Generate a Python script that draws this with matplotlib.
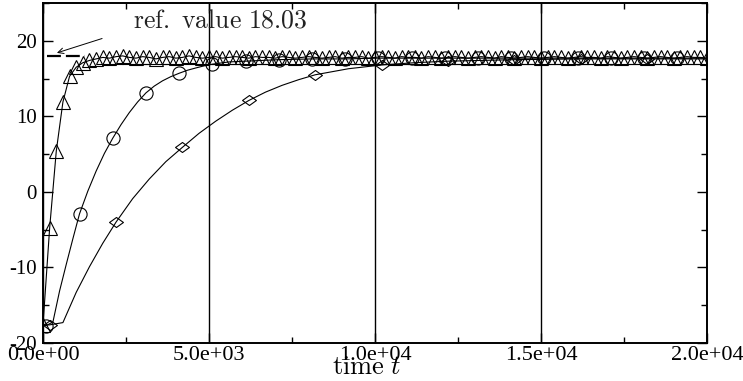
import numpy as np
import matplotlib
matplotlib.use("Agg")
import matplotlib.pyplot as plt
from matplotlib.path import Path
from matplotlib.ticker import MultipleLocator, FormatStrFormatter
from matplotlib.transforms import ScaledTranslation

plt.rcParams['font.family'] = ['Liberation Serif', 'DejaVu Serif']
plt.rcParams['mathtext.fontset'] = 'cm'
plt.rcParams['axes.unicode_minus'] = False
plt.rcParams['lines.scale_dashes'] = False

# ---------------- data ----------------
ref_value = 18.03

# triangles: sampled every 200 time units
tri_t = np.arange(0, 20001, 200)
tri_y = [-17.6, -4.8, 5.4, 11.9, 15.3, 16.5, 17.1, 17.4, 17.6,
         17.8, 17.7, 17.9, 18.0, 17.8, 17.7, 17.9, 17.8, 17.6, 17.8,
         17.9, 17.7, 17.8, 18.0, 17.8, 17.7, 17.8, 17.9, 17.7, 17.8,
         17.9, 17.8, 17.7, 17.9, 17.8, 17.8, 17.7, 17.9, 17.8, 17.7,
         17.8, 17.9, 17.8, 17.7, 17.8, 17.9, 17.7, 17.8, 17.8, 17.9,
         17.7, 17.8, 17.9, 17.8, 17.7, 17.9, 17.8, 17.8, 17.7, 17.9,
         17.8, 17.7, 17.8, 17.9, 17.8, 17.7, 17.8, 17.9, 17.8, 17.7,
         17.9, 17.8, 17.7, 17.8, 17.9, 17.8, 17.7, 17.8, 17.9, 17.8,
         17.7, 17.8, 17.9, 17.8, 17.8, 17.7, 17.9, 17.8, 17.7, 17.8,
         17.9, 17.8, 17.7, 17.8, 17.9, 17.8, 17.7, 17.8, 17.9, 17.8,
         17.8, 17.7]

# circles: line samples and marker samples
circ_t = [0, 100, 300, 500, 700, 900, 1100, 1350, 1600, 1850, 2100, 2350, 2600,
          2850, 3100, 3350, 3600, 3850, 4100, 4350, 4600, 4850, 5100, 5600,
          6100, 7100, 8100, 9100, 10100, 12100, 14100, 16100, 18100, 20000]
circ_y = [-17.6, -17.7, -17.2, -13.1, -9.6, -6.2, -2.9, 0.1, 2.75, 5.1, 7.1, 8.9,
          10.5, 11.9, 13.1, 14.0, 14.7, 15.25, 15.7, 16.1, 16.4, 16.68, 16.9,
          17.2, 17.3, 17.5, 17.6, 17.6, 17.7, 17.7, 17.7, 17.7, 17.7, 17.7]
circ_mark_t = [100, 1100, 2100, 3100, 4100, 5100, 6100, 7100, 8100, 9100,
               10100, 11100, 12100, 13100, 14100, 15100, 16100, 17100, 18100, 19100]
circ_mark_y = [-17.8, -2.9, 7.1, 13.1, 15.7, 16.9, 17.3, 17.5, 17.6, 17.6,
               17.7, 17.7, 17.7, 17.7, 17.7, 17.7, 17.7, 17.7, 17.7, 17.7]

# diamonds: line samples and marker samples
diam_t = [0, 200, 600, 1000, 1400, 1800, 2200, 2700, 3200, 3700, 4200, 4700,
          5200, 5700, 6200, 6700, 7200, 7700, 8200, 9200, 10200, 11200, 12200,
          14200, 16200, 18200, 20000]
diam_y = [-17.6, -17.6, -17.3, -13.3, -9.9, -6.8, -4.0, -0.9, 1.7, 4.0, 5.9,
          7.75, 9.35, 10.8, 12.1, 13.2, 14.1, 14.85, 15.5, 16.3, 16.8, 17.1,
          17.3, 17.5, 17.6, 17.6, 17.6]
diam_mark_t = [200, 2200, 4200, 6200, 8200, 10200, 12200, 14200, 16200, 18200]
diam_mark_y = [-17.6, -4.0, 5.9, 12.1, 15.5, 16.8, 17.3, 17.5, 17.6, 17.6]

ref_seg_t = [120, 1250]
arrow_head = (420, 18.4)
arrow_tail = (1780, 20.3)
label_pos = (2711, 21.7)

# ---------------- figure ----------------
fig = plt.figure(figsize=(7.43, 3.81), dpi=100)
ax = fig.add_axes([43 / 743, 38 / 381, 664 / 743, 340 / 381])

ax.set_xlim(0, 20000)
ax.set_ylim(-20, 25)

ax.grid(axis='x', which='major', color='black', lw=1.0)

wide_diamond = Path([(-1, 0), (0, 0.72), (1, 0), (0, -0.72), (-1, 0)],
                    [Path.MOVETO, Path.LINETO, Path.LINETO, Path.LINETO, Path.CLOSEPOLY])

lw = 0.8
ax.plot(diam_t, diam_y, color='black', lw=lw)
ax.plot(diam_mark_t, diam_mark_y, ls='none', marker=wide_diamond, ms=10,
        mfc='none', mec='black', mew=0.8)
ax.plot(circ_t, circ_y, color='black', lw=lw)
ax.plot(circ_mark_t, circ_mark_y, ls='none', marker='o', ms=9.5,
        mfc='none', mec='black', mew=0.8)
ax.plot(tri_t, tri_y, color='black', lw=lw, marker='^', ms=9.5,
        mfc='none', mec='black', mew=0.8)

ax.plot(ref_seg_t, [ref_value, ref_value], color='black', lw=1.6, dashes=(10, 3.6))
ax.annotate('', xy=arrow_head, xytext=arrow_tail,
            arrowprops=dict(arrowstyle='->', lw=0.7, color='black',
                            shrinkA=0, shrinkB=0))
ax.text(label_pos[0], label_pos[1], r'$\mathrm{ref.\ value\ 18.03}$',
        fontsize=18.5, color='#222222', ha='left', va='baseline')

ax.xaxis.set_major_locator(MultipleLocator(5000))
ax.xaxis.set_minor_locator(MultipleLocator(2500))
ax.yaxis.set_major_locator(MultipleLocator(10))
ax.yaxis.set_minor_locator(MultipleLocator(5))
ax.xaxis.set_major_formatter(FormatStrFormatter('%.1e'))
ax.yaxis.set_major_formatter(FormatStrFormatter('%d'))

ax.tick_params(which='both', direction='in', top=True, right=True,
               width=1.0, colors='black')
ax.tick_params(which='major', length=7.5)
ax.tick_params(which='minor', length=4.5)
ax.tick_params(axis='x', pad=2, labelsize=16)
ax.tick_params(axis='y', pad=4.5, labelsize=15)

for s in ax.spines.values():
    s.set_linewidth(1.4)

ax.set_xlabel(r'$\mathrm{time}\ t$', fontsize=19)
ax.xaxis.set_label_coords((367 - 43) / 664, -0.04)

fig.canvas.draw()
labs = ax.get_xticklabels()
if labs:
    labs[0].set_transform(labs[0].get_transform() +
                          ScaledTranslation(-7 / 100, 0, fig.dpi_scale_trans))

fig.savefig('out.png', dpi=100)
